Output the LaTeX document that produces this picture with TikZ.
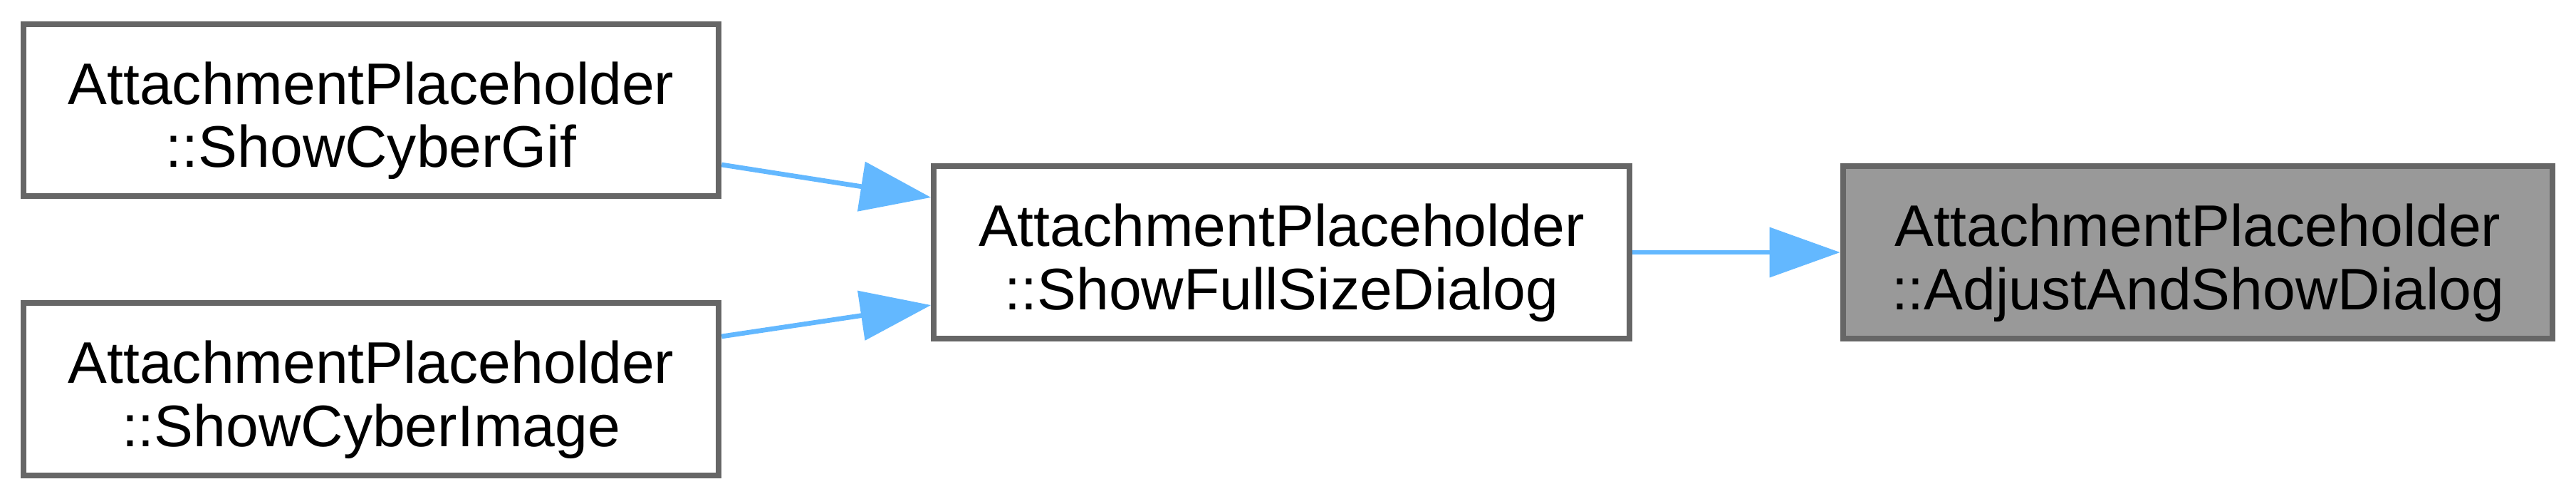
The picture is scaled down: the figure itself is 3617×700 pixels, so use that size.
\documentclass[tikz,border=0pt]{standalone}
\usepackage{fontspec}
\setmainfont{Liberation Sans}
\usetikzlibrary{arrows.meta}
\definecolor{edgeblue}{HTML}{63B8FF}
\definecolor{bordergray}{HTML}{666666}
\definecolor{fillgray}{HTML}{999999}
\newcommand{\firstln}{\rule{0pt}{0.89cm}}
\begin{document}
\begin{tikzpicture}[x=0.01cm,y=-0.01cm,
  fn/.style={draw=bordergray, line width=0.08cm, fill=white, inner sep=0pt,
    minimum width=9.76cm, minimum height=2.41cm, align=center,
    font=\fontsize{23.4pt}{25.3pt}\selectfont},
  fncur/.style={fn, fill=fillgray, minimum width=9.96cm},
  edge/.style={draw=edgeblue, line width=0.067cm, -{Triangle[length=0.99cm,width=0.69cm]}}]
\fill[white] (0,0) rectangle (3617,700);
\useasboundingbox (0,0) rectangle (3617,700);
\node[fn] (gif) at (521,154.5) {\firstln AttachmentPlaceholder\\::ShowCyberGif};
\node[fn] (img) at (521,546) {\firstln AttachmentPlaceholder\\::ShowCyberImage};
\node[fn] (full) at (1799.5,354) {\firstln AttachmentPlaceholder\\::ShowFullSizeDialog};
\node[fncur] (adj) at (3086,354) {\firstln AttachmentPlaceholder\\::AdjustAndShowDialog};
\draw[edge] ([yshift=-0.765cm]gif.east) -- ([yshift=0.77cm]full.west);
\draw[edge] ([yshift=0.74cm]img.east) -- ([yshift=-0.74cm]full.west);
\draw[edge] (full.east) -- (adj.west);
\end{tikzpicture}
\end{document}
